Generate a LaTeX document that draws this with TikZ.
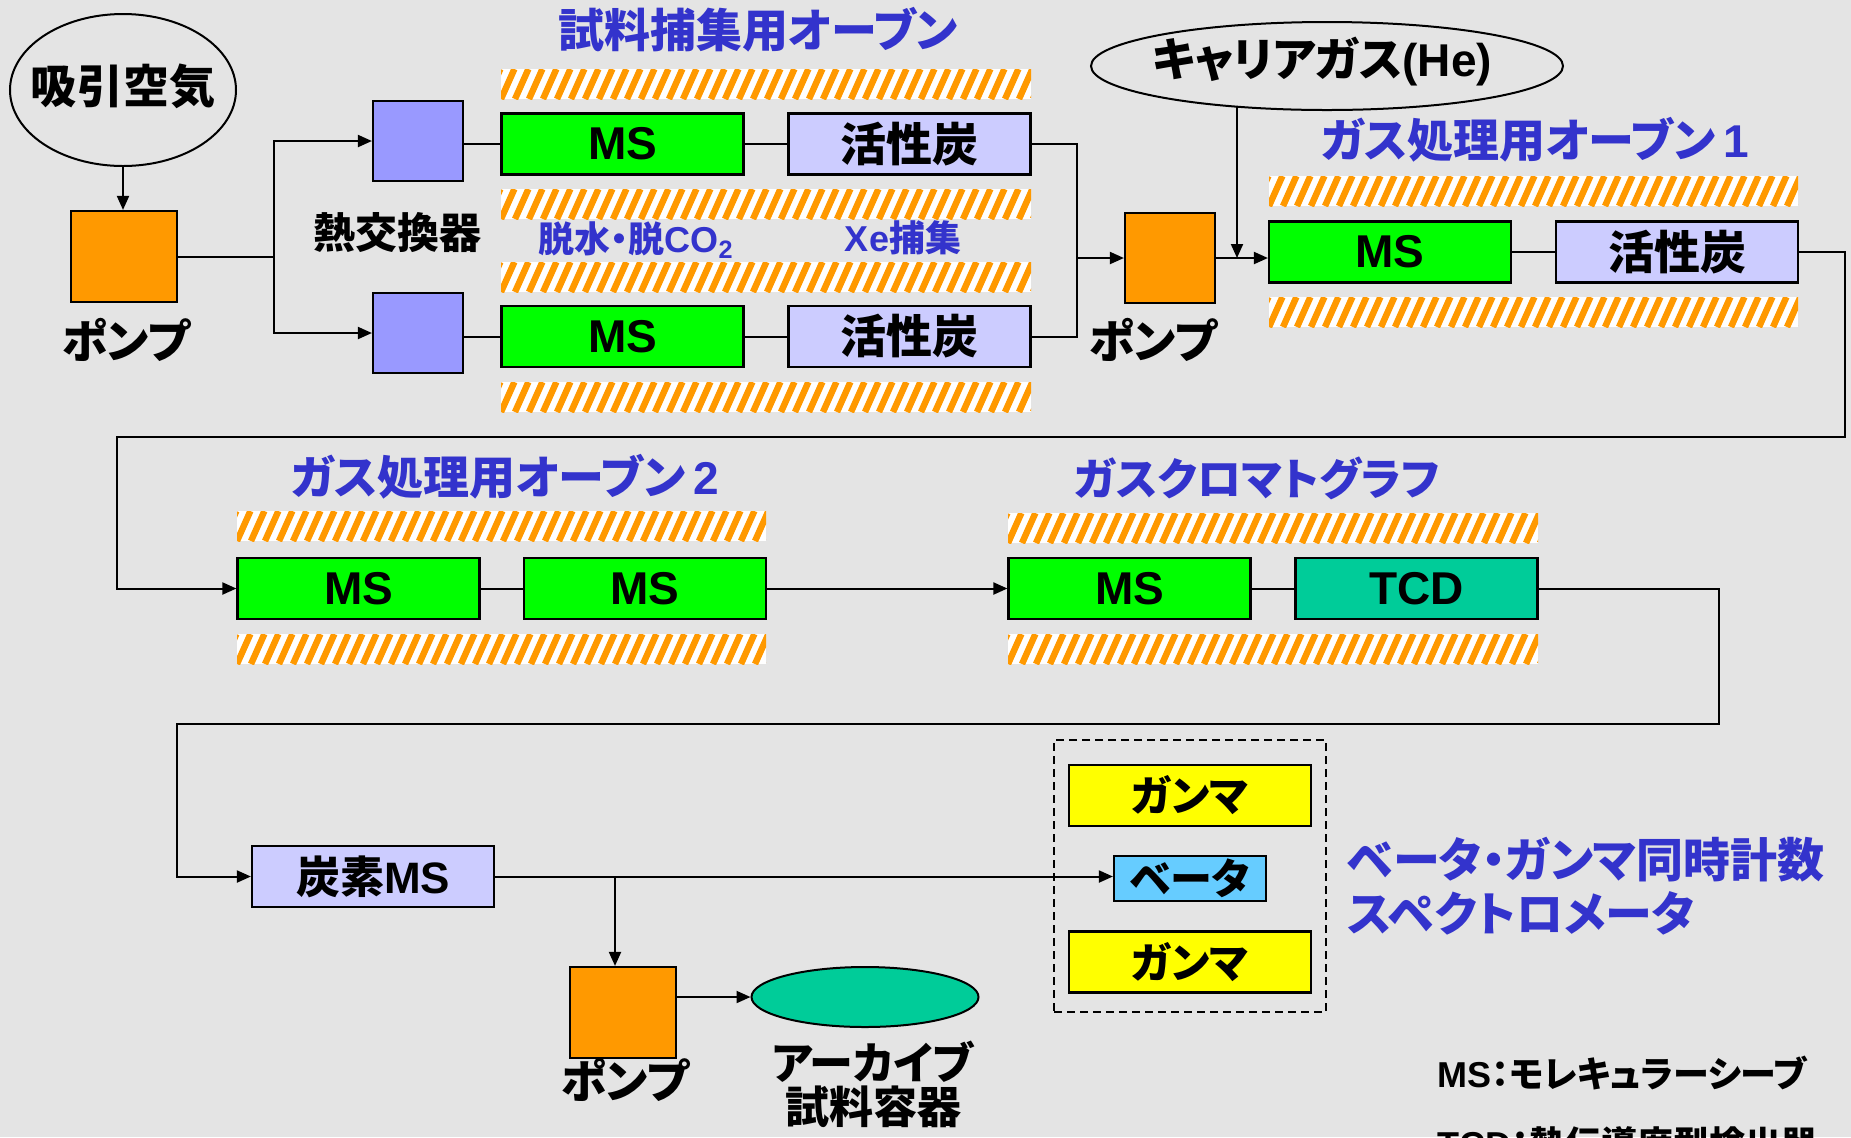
\documentclass[tikz,border=0pt]{standalone}
\usepackage{fontspec}
\setmainfont{Liberation Sans}
\newfontfamily\lat{Liberation Sans}
\newfontfamily\jp{Noto Sans CJK JP}[RawFeature=+palt]
\usetikzlibrary{arrows.meta,shapes.geometric}
\definecolor{bgc}{HTML}{E4E4E4}
\definecolor{msgreen}{HTML}{00FF00}
\definecolor{lav}{HTML}{CCCCFF}
\definecolor{hxblue}{HTML}{9999FF}
\definecolor{pumporange}{HTML}{FF9900}
\definecolor{teal}{HTML}{00CC99}
\definecolor{gyellow}{HTML}{FFFF00}
\definecolor{bblue}{HTML}{66CCFF}
\definecolor{tblue}{HTML}{3333CC}
\definecolor{hatchorange}{HTML}{FF9900}
\newcommand\fsz[1]{\fontsize{#1}{#1}\selectfont}
\newcommand\hatchbar[3]{%
  \begin{scope}
    \clip (#1,#3) rectangle (#2,#3+30);
    \fill[white] (#1,#3) rectangle (#2,#3+30);
    \foreach \k in {0,...,40}{\draw[hatchline] ({#1-14+\k*14},#3+30) -- ++(13.4,-30);}
  \end{scope}}
\begin{document}
\begin{tikzpicture}[x=0.5pt,y=-0.5pt,
  hatchline/.style={draw=hatchorange,line width=3.2pt},
  box/.style={draw=black,line width=1.1pt,inner sep=0pt,minimum width=121pt,minimum height=30.5pt,font=\bfseries},
  msbox/.style={box,fill=msgreen,font=\lat\bfseries\fsz{23}},
  acbox/.style={box,fill=lav,font=\jp\bfseries\fsz{23}},
  pumpbox/.style={draw=black,line width=1.1pt,fill=pumporange,inner sep=0pt},
  hxbox/.style={draw=black,line width=1.1pt,fill=hxblue,inner sep=0pt,minimum width=45pt,minimum height=40pt},
  oval/.style={ellipse,draw=black,line width=1pt,inner sep=0pt},
  lbl/.style={inner sep=0pt,font=\jp\bfseries\fsz{23}},
  ttl/.style={inner sep=0pt,text=tblue,font=\jp\bfseries\fsz{23}},
  con/.style={line width=1pt},
  arr/.style={line width=1pt,-{Triangle[length=7pt,width=6pt]}}]
\useasboundingbox (0,0) rectangle (1851,1137);
\clip (0,0) rectangle (1851,1137);
\fill[bgc] (0,0) rectangle (1851,1137);

% ---- hatched oven strips
\hatchbar{501}{1031}{69}
\hatchbar{501}{1031}{189}
\hatchbar{501}{1031}{262}
\hatchbar{501}{1031}{382}
\hatchbar{1269}{1798}{176}
\hatchbar{1269}{1798}{297}
\hatchbar{237}{766}{511}
\hatchbar{237}{766}{634}
\hatchbar{1008}{1538}{513}
\hatchbar{1008}{1538}{634}

% ---- intake
\node[oval,minimum width=113pt,minimum height=76pt] (air) at (123,90) {};
\node[lbl] (airl) at (123,86) {吸引空気};
\node[pumpbox,minimum width=53pt,minimum height=45.5pt] (p1) at (124,256.5) {};
\node[lbl] (p1l) at (126,340) {ポンプ};
\node[hxbox] (hx1) at (418,141) {};
\node[hxbox] (hx2) at (418,333) {};
\node[lbl,font=\jp\bfseries\fsz{21}] (hxl) at (397,233) {熱交換器};

% ---- sample trap oven
\node[ttl] (t1) at (758,30) {試料捕集用オーブン};
\node[msbox] (ms1a) at (622.5,144) {MS};
\node[acbox] (ac1a) at (909.5,144) {活性炭};
\node[msbox] (ms1b) at (622.5,336.5) {MS};
\node[acbox] (ac1b) at (909.5,336.5) {活性炭};
\node[ttl,font=\jp\bfseries\fsz{18}] (d1) at (636,240) {脱水・脱{\lat CO\textsubscript{2}}};
\node[ttl,font=\jp\bfseries\fsz{18}] (d2) at (903,238) {{\lat Xe}捕集};

% ---- carrier / pump 2 / oven 1
\node[oval,minimum width=236pt,minimum height=44pt] (carrier) at (1327,66) {};
\node[lbl] (carrierl) at (1322,62) {キャリアガス{\lat (He)}};
\node[pumpbox,minimum width=45pt,minimum height=45pt] (p2) at (1170,258) {};
\node[lbl] (p2l) at (1153,340) {ポンプ};
\node[ttl] (t2) at (1535,140) {ガス処理用オーブン\,{\lat 1}};
\node[msbox] (ms2a) at (1390,252) {MS};
\node[acbox] (ac2a) at (1677,252) {活性炭};

% ---- oven 2 / GC
\node[ttl] (t3) at (505,477) {ガス処理用オーブン\,{\lat 2}};
\node[msbox] (ms3a) at (358.5,588.5) {MS};
\node[msbox] (ms3b) at (645,588.5) {MS};
\node[ttl,font=\jp\bfseries\fsz{22}] (t4) at (1257,478) {ガスクロマトグラフ};
\node[msbox] (ms4a) at (1129.5,588.5) {MS};
\node[box,fill=teal,font=\lat\bfseries\fsz{23}] (tcd) at (1416.5,588.5) {TCD};

% ---- bottom row
\node[box,fill=lav,font=\jp\bfseries\fsz{22}] (cms) at (373,876.5) {炭素{\lat MS}};
\node[pumpbox,minimum width=53pt,minimum height=45.5pt] (p3) at (623,1012.5) {};
\node[lbl] (p3l) at (625,1080) {ポンプ};
\node[oval,fill=teal,minimum width=113.5pt,minimum height=30pt] (arch) at (865,997) {};
\node[lbl,font=\jp\bfseries\fsz{22},align=center] (archl) at (873,1084) {アーカイブ\\[0pt]試料容器};

% ---- spectrometer
\node[draw=black,line width=0.8pt,dash pattern=on 4pt off 2.5pt,minimum width=136pt,minimum height=136pt] (spec) at (1190,876) {};
\node[box,fill=gyellow,font=\jp\bfseries\fsz{21}] (g1) at (1190,795.5) {ガンマ};
\node[box,fill=bblue,minimum width=76pt,minimum height=22.5pt,font=\jp\bfseries\fsz{21}] (beta) at (1190,878.5) {ベータ};
\node[box,fill=gyellow,font=\jp\bfseries\fsz{21}] (g2) at (1190,962) {ガンマ};
\node[ttl,font=\jp\bfseries\fsz{23.5},anchor=west] (s1) at (1347,860) {ベータ・ガンマ同時計数};
\node[ttl,font=\jp\bfseries\fsz{23.5},anchor=west] (s2) at (1347,913) {スペクトロメータ};

% ---- legend
\node[lbl,font=\jp\bfseries\fsz{18},anchor=west,text=black] (leg1) at (1437,1073) {{\lat MS}：モレキュラーシーブ};
\node[lbl,font=\jp\bfseries\fsz{18},anchor=west,text=black] (leg2) at (1437,1144) {{\lat TCD}：熱伝導度型検出器};

% ---- connectors
\coordinate (j1) at (274,256.5);
\coordinate (m1) at (1077,258);
\coordinate (cj) at (1237,258);
\coordinate (r1) at (1845,437);
\coordinate (r2) at (117,437);
\coordinate (r3) at (1719,724);
\coordinate (r4) at (177,724);
\coordinate (j3) at (615,876.5);

\draw[arr] (air.south) -- (air.south |- p1.north);
\draw[con] (p1.east) -- (j1);
\draw[arr] (j1) |- (hx1.west);
\draw[arr] (j1) |- (hx2.west);
\draw[con] (hx1.east |- ms1a.west) -- (ms1a.west);
\draw[con] (hx2.east |- ms1b.west) -- (ms1b.west);
\draw[con] (ms1a) -- (ac1a);
\draw[con] (ms1b) -- (ac1b);
\draw[con] (ac1a.east) -| (m1);
\draw[con] (ac1b.east) -| (m1);
\draw[arr] (m1) -- (p2.west);
\draw[arr] (carrier.204 -| cj) -- (cj);
\draw[arr] (p2.east) -- (p2.east -| ms2a.west);
\draw[con] (ms2a) -- (ac2a);
\draw[arr] (ac2a.east) -| (r1) -- (r2) |- (ms3a.west);
\draw[con] (ms3a) -- (ms3b);
\draw[arr] (ms3b) -- (ms4a);
\draw[con] (ms4a) -- (tcd);
\draw[arr] (tcd.east) -| (r3) -- (r4) |- (cms.west);
\draw[arr] (cms.east) -- (cms.east -| beta.west);
\draw[arr] (j3) -- (j3 |- p3.north);
\draw[arr] (p3.east |- arch.west) -- (arch.west);
\end{tikzpicture}
\end{document}
